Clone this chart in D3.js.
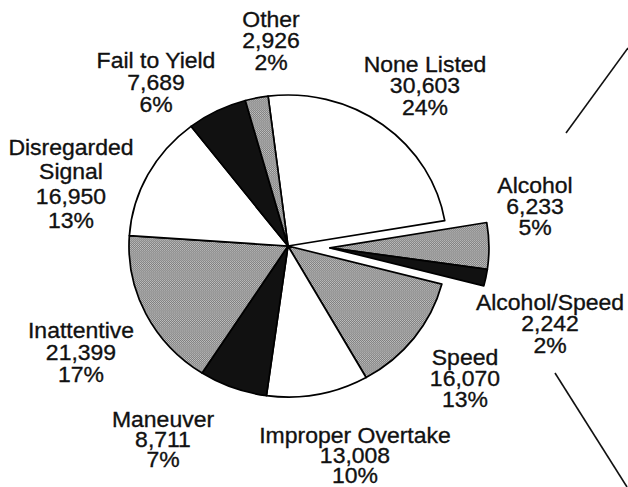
<!DOCTYPE html>
<html>
<head>
<meta charset="utf-8">
<script src="https://cdn.jsdelivr.net/npm/d3@7"></script>
<style>
  html, body { margin: 0; padding: 0; background: #fff; }
  text { font-family: "Liberation Sans", Arial, sans-serif; font-size: 23px; fill: #111; stroke: #111; stroke-width: 0.35px; }
</style>
</head>
<body>
<svg id="mainsvg" width="628" height="487"></svg>
<script>
// crash causes, clockwise from the top
const categories = ['None Listed', 'Alcohol', 'Alcohol/Speed', 'Speed', 'Improper Overtake',
  'Maneuver', 'Inattentive', 'Disregarded Signal', 'Fail to Yield', 'Other'];
const counts = [30603, 6233, 2242, 16070, 13008, 8711, 21399, 16950, 7689, 2926];
const percents = ['24%', '5%', '2%', '13%', '10%', '7%', '17%', '13%', '6%', '2%'];
const shades = ['white', 'gray', 'black', 'gray', 'white', 'black', 'gray', 'white', 'black', 'gray'];
const pulledOut = ['Alcohol', 'Alcohol/Speed'];

const data = categories.map((c, i) => ({ name: c, value: counts[i], pct: percents[i], shade: shades[i] }));

// label layout: centre x, first baseline, line gap
const labelPos = {
  'None Listed': [425, 72, 21.5],
  'Alcohol': [535, 193, 21],
  'Alcohol/Speed': [550, 310, 21.5],
  'Speed': [465, 365, 21],
  'Improper Overtake': [355, 443, 20],
  'Maneuver': [163, 427, 20],
  'Inattentive': [81, 338, 22],
  'Disregarded Signal': [71, 155, 24.3],
  'Fail to Yield': [156, 68, 22],
  'Other': [271, 27, 21.5]
};

const svg = d3.select('#mainsvg');
const cx = 288, cy = 246, rx = 159, ry = 151;
const squash = ry / rx;
const startAngle = -7.2 * Math.PI / 180;
const explode = 42;

// halftone-ish gray
const defs = svg.append('defs');
const pat = defs.append('pattern')
  .attr('id', 'halftone')
  .attr('patternUnits', 'userSpaceOnUse')
  .attr('width', 2).attr('height', 2);
pat.append('rect').attr('width', 2).attr('height', 2).attr('fill', '#7e7e7e');
pat.append('rect').attr('width', 1).attr('height', 1).attr('fill', '#c2c2c2');
pat.append('rect').attr('x', 1).attr('y', 1).attr('width', 1).attr('height', 1).attr('fill', '#b4b4b4');

const fillFor = {
  white: '#ffffff',
  gray: 'url(#halftone)',
  black: '#111111'
};

const pie = d3.pie()
  .value(d => d.value)
  .sort(null)
  .startAngle(startAngle)
  .endAngle(startAngle + 2 * Math.PI);
const arcs = pie(data);

const arc = d3.arc().innerRadius(0).outerRadius(rx);

// direction for the pulled-out wedge
const outArcs = arcs.filter(a => pulledOut.includes(a.data.name));
const outMid = (d3.min(outArcs, a => a.startAngle) + d3.max(outArcs, a => a.endAngle)) / 2;
const ox = explode * Math.sin(outMid);
const oy = -explode * Math.cos(outMid);

const g = svg.append('g')
  .attr('id', 'maingroup')
  .attr('transform', `translate(${cx}, ${cy}) scale(1, ${squash})`);

g.selectAll('path')
  .data(arcs)
  .enter()
  .append('path')
  .attr('d', arc)
  .attr('transform', d => pulledOut.includes(d.data.name) ? `translate(${ox}, ${oy / squash})` : null)
  .attr('fill', d => fillFor[d.data.shade])
  .attr('stroke', '#000')
  .attr('stroke-width', 1.7)
  .attr('stroke-linejoin', 'round')
  .attr('vector-effect', 'non-scaling-stroke');

// labels
const fmt = d3.format(',');
const labels = svg.append('g').selectAll('g')
  .data(data)
  .enter()
  .append('g')
  .attr('transform', d => `translate(${labelPos[d.name][0]}, ${labelPos[d.name][1]}) scale(1, 0.93)`);

labels.each(function (d) {
  const gap = labelPos[d.name][2] / 0.93;
  const lines = d.name === 'Disregarded Signal' ? ['Disregarded', 'Signal'] : [d.name];
  lines.push(fmt(d.value), d.pct);
  const t = d3.select(this).append('text').attr('text-anchor', 'middle');
  lines.forEach((l, i) => {
    t.append('tspan').attr('x', 0).attr('dy', i === 0 ? 0 : gap).text(l);
  });
});

// leader strokes at right edge
svg.append('line')
  .attr('x1', 566).attr('y1', 133).attr('x2', 628).attr('y2', 48)
  .attr('stroke', '#111').attr('stroke-width', 1.6);
svg.append('line')
  .attr('x1', 555).attr('y1', 373).attr('x2', 627).attr('y2', 487)
  .attr('stroke', '#111').attr('stroke-width', 1.6);
</script>
</body>
</html>
